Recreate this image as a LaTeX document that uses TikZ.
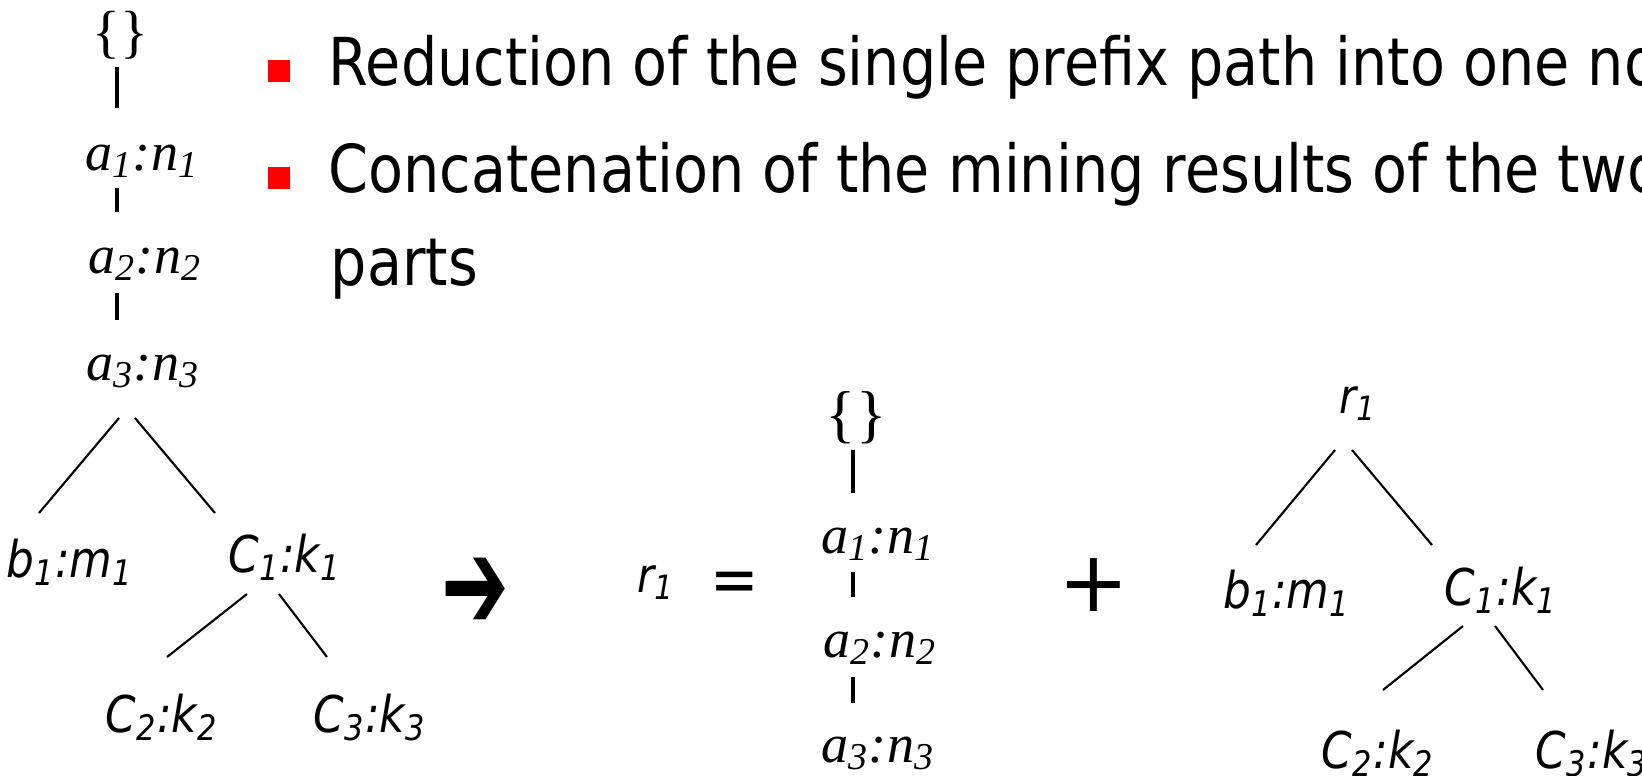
\documentclass[tikz,border=0pt]{standalone}
\usepackage{fontspec}
\usepackage{tikz}
\newfontfamily\tahoma[FakeStretch=0.865]{DejaVu Sans}
\newfontfamily\dejavu{DejaVu Sans}
\newfontfamily\timesfont{Liberation Serif}

\begin{document}
\begin{tikzpicture}[x=0.01cm, y=-0.01cm, every node/.style={inner sep=0pt},
    bullettext/.style={anchor=base west, font=\tahoma\fontsize{18.8}{22}\selectfont},
    redsq/.style={fill=red, minimum size=0.22cm},
    braces/.style={font=\timesfont\fontsize{16.5}{19}\selectfont},
    serlab/.style={anchor=base, font=\timesfont\itshape\fontsize{15.4}{18}\selectfont},
    sanlab/.style={anchor=base, font=\tahoma\itshape\fontsize{14.4}{17}\selectfont},
    rlab/.style={anchor=base, font=\tahoma\itshape\fontsize{13.6}{16}\selectfont},
    branch/.style={line width=0.6pt},
    stem/.style={line width=0.9pt}]
    \path[use as bounding box] (0,0) rectangle (1642,775);
    \clip (0,0) rectangle (1642,775);

    \node[redsq] (s1) at (279,71) {};
    \node[redsq] (s2) at (279,178) {};
    \node[bullettext] (t1) at (328,85) {Reduction of the single prefix path into one no};
    \node[bullettext] (t2) at (328,192) {Concatenation of the mining results of the two};
    \node[bullettext] (t3) at (330,285) {parts};

    \node[braces] (e1) at (120,35) {\{\}};
    \node[serlab] (a1) at (142,170) {a\textsubscript{1}:n\textsubscript{1}};
    \node[serlab] (a2) at (145,273) {a\textsubscript{2}:n\textsubscript{2}};
    \node[serlab] (a3) at (143,380) {a\textsubscript{3}:n\textsubscript{3}};
    \node[sanlab] (b1) at (70,577) {b\textsubscript{1}:m\textsubscript{1}};
    \node[sanlab] (c1) at (285,572) {C\textsubscript{1}:k\textsubscript{1}};
    \node[sanlab] (c2) at (162,732) {C\textsubscript{2}:k\textsubscript{2}};
    \node[sanlab] (c3) at (370,732) {C\textsubscript{3}:k\textsubscript{3}};
    \coordinate (u1) at (117,67);   \coordinate (u2) at (117,108);
    \coordinate (u3) at (117,188);  \coordinate (u4) at (117,212);
    \coordinate (u5) at (117,293);  \coordinate (u6) at (117,320);
    \coordinate (v1) at (119,418);  \coordinate (v2) at (39,513);
    \coordinate (v3) at (135,418);  \coordinate (v4) at (215,513);
    \coordinate (v5) at (247,594);  \coordinate (v6) at (167,657);
    \coordinate (v7) at (279,594);  \coordinate (v8) at (327,657);
    \draw[stem] (u1) -- (u2) (u3) -- (u4) (u5) -- (u6);
    \draw[branch] (v1) -- (v2) (v3) -- (v4) (v5) -- (v6) (v7) -- (v8);

    \node[font=\dejavu\fontsize{23}{26}\selectfont] (arr) at (475,594) {\scalebox{1}[1.6]{➔}};
    \node[rlab] (r1) at (656,592) {r\textsubscript{1}};
    \node[font=\tahoma\fontsize{19}{22}\selectfont] (eq) at (735,587) {=};

    \node[braces, font=\timesfont\fontsize{18}{21}\selectfont] (e2) at (856,418) {\{\}};
    \node[serlab] (m1) at (878,553) {a\textsubscript{1}:n\textsubscript{1}};
    \node[serlab] (m2) at (880,657) {a\textsubscript{2}:n\textsubscript{2}};
    \node[serlab] (m3) at (878,762) {a\textsubscript{3}:n\textsubscript{3}};
    \coordinate (w1) at (853,450);  \coordinate (w2) at (853,493);
    \coordinate (w3) at (853,572);  \coordinate (w4) at (853,597);
    \coordinate (w5) at (853,677);  \coordinate (w6) at (853,703);
    \draw[stem] (w1) -- (w2) (w3) -- (w4) (w5) -- (w6);

    \node[font=\dejavu\fontsize{24}{27}\selectfont] (plus) at (1094,585) {+};

    \node[rlab] (r2) at (1358,413) {r\textsubscript{1}};
    \node[sanlab] (b2) at (1287,608) {b\textsubscript{1}:m\textsubscript{1}};
    \node[sanlab] (c4) at (1501,605) {C\textsubscript{1}:k\textsubscript{1}};
    \node[sanlab] (c5) at (1378,768) {C\textsubscript{2}:k\textsubscript{2}};
    \node[sanlab, anchor=base west] (c6) at (1535,768) {C\textsubscript{3}:k\textsubscript{3}};
    \coordinate (x1) at (1335,450);  \coordinate (x2) at (1256,545);
    \coordinate (x3) at (1352,450);  \coordinate (x4) at (1432,545);
    \coordinate (x5) at (1463,626);  \coordinate (x6) at (1383,690);
    \coordinate (x7) at (1495,626);  \coordinate (x8) at (1543,690);
    \draw[branch] (x1) -- (x2) (x3) -- (x4) (x5) -- (x6) (x7) -- (x8);
\end{tikzpicture}
\end{document}
